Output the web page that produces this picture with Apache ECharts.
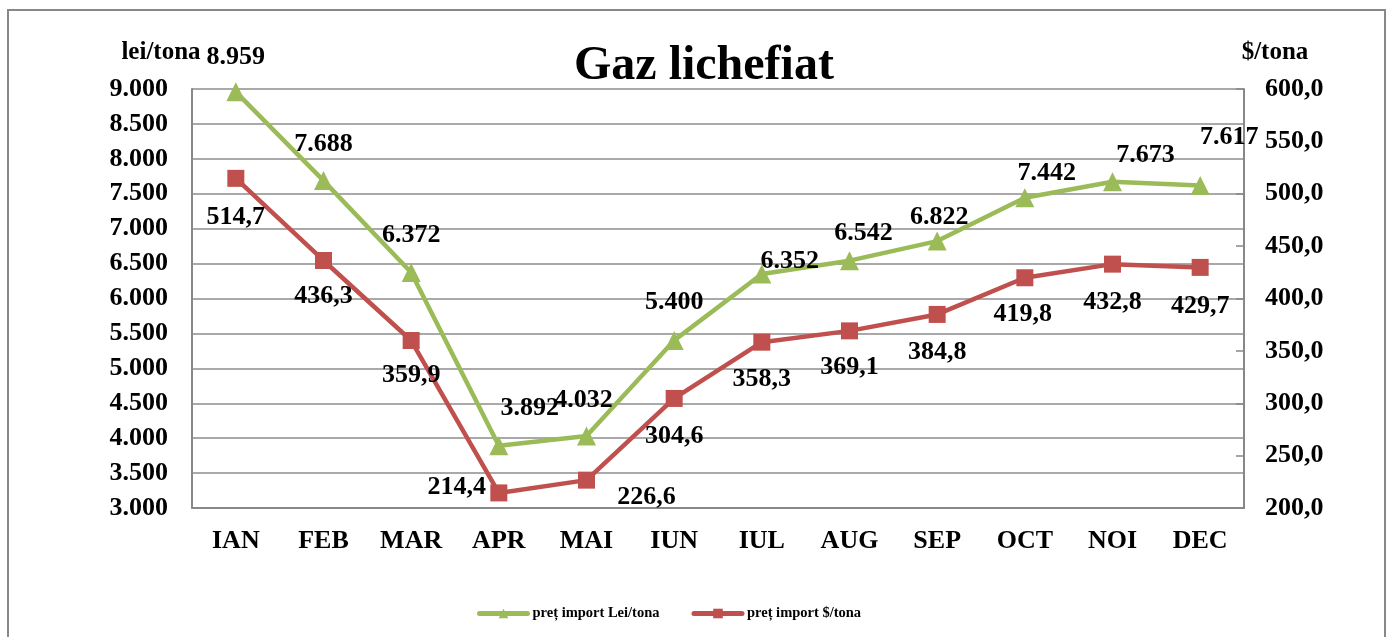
<!DOCTYPE html>
<html>
<head>
<meta charset="utf-8">
<script src="https://cdn.jsdelivr.net/npm/echarts@6/dist/echarts.min.js"></script>
<style>
  html, body { margin: 0; padding: 0; background: #fff; }
  #chart { width: 1392px; height: 637px; }
</style>
</head>
<body>
<div id="chart"></div>
<script>
const months = ["IAN", "FEB", "MAR", "APR", "MAI", "IUN", "IUL", "AUG", "SEP", "OCT", "NOI", "DEC"];
const leiPerTona = [8959, 7688, 6372, 3892, 4032, 5400, 6352, 6542, 6822, 7442, 7673, 7617];
const usdPerTona = [514.7, 436.3, 359.9, 214.4, 226.6, 304.6, 358.3, 369.1, 384.8, 419.8, 432.8, 429.7];

const font = "'Liberation Serif', 'Times New Roman', serif";
const green = "#9BBB59";
const red = "#C0504D";

// where each value label sits relative to its point (px)
const leiLabelShift = [[0,-35],[0,-36],[0,-37],[31,-37],[-3,-36],[0,-38],[28,-13],[14,-27],[2,-24],[22,-25],[33,-26],[29,-48]];
const usdLabelShift = [[0,39],[0,36],[0,35],[-42,-6],[60,17],[0,38],[0,37],[0,36],[0,38],[-2,37],[0,38],[0,39]];

const fmtLei = (v) => String(Math.round(v)).replace(/\B(?=(\d{3})+(?!\d))/g, ".");
const fmtUsd = (v) => v.toFixed(1).replace(".", ",");

const chart = echarts.init(document.getElementById("chart"));

const labelStyle = { show: true, position: "inside", color: "#000", fontFamily: font, fontWeight: "bold", fontSize: 26 };

chart.setOption({
  animation: false,
  backgroundColor: "#fff",
  title: {
    text: "Gaz lichefiat",
    left: 569,
    top: 38,
    textStyle: { fontFamily: font, fontWeight: "bold", fontSize: 48, color: "#000" },
  },
  graphic: [
    {
      type: "rect",
      shape: { x: 8, y: 10, width: 1377, height: 700 },
      style: { fill: "none", stroke: "#888", lineWidth: 2 },
      silent: true,
    },
  ],
  legend: {
    left: 472,
    top: 601,
    itemWidth: 48,
    itemHeight: 12,
    itemGap: 32,
    lineStyle: { width: 5, cap: "round" },
    textStyle: { fontFamily: font, fontWeight: "bold", fontSize: 14.5, color: "#000" },
    data: ["preț import Lei/tona", "preț import $/tona"],
  },
  grid: { left: 192, right: 148, top: 89, bottom: 129 },
  xAxis: {
    type: "category",
    data: months,
    boundaryGap: true,
    axisLine: { lineStyle: { color: "#888", width: 2 } },
    axisTick: { show: false },
    axisLabel: { color: "#000", fontFamily: font, fontWeight: "bold", fontSize: 26, margin: 20 },
  },
  yAxis: [
    {
      type: "value",
      min: 3000,
      max: 9000,
      interval: 500,
      name: "lei/tona",
      nameLocation: "end",
      nameGap: 24,
      nameTextStyle: { color: "#000", fontFamily: font, fontWeight: "bold", fontSize: 25, padding: [0, 62, 0, 0] },
      axisLine: { show: true, lineStyle: { color: "#888", width: 2 } },
      axisTick: { show: false },
      axisLabel: { color: "#000", fontFamily: font, fontWeight: "bold", fontSize: 26, margin: 24, formatter: fmtLei },
      splitLine: { lineStyle: { color: "#8c8c8c", width: 1.5 } },
    },
    {
      type: "value",
      min: 200,
      max: 600,
      interval: 50,
      name: "$/tona",
      nameLocation: "end",
      nameGap: 24,
      nameTextStyle: { color: "#000", fontFamily: font, fontWeight: "bold", fontSize: 25, padding: [0, 0, 0, 62] },
      axisLine: { show: true, lineStyle: { color: "#888", width: 2 } },
      axisTick: { show: true, inside: true, length: 8, lineStyle: { color: "#888", width: 1.5 } },
      axisLabel: { color: "#000", fontFamily: font, fontWeight: "bold", fontSize: 26, margin: 21, formatter: fmtUsd },
      splitLine: { show: false },
    },
  ],
  series: [
    {
      name: "preț import Lei/tona",
      type: "line",
      yAxisIndex: 0,
      symbol: "triangle",
      symbolSize: 19,
      lineStyle: { color: green, width: 4.5 },
      itemStyle: { color: green },
      z: 3,
      data: leiPerTona.map((v, i) => ({
        value: v,
        label: { ...labelStyle, offset: leiLabelShift[i], formatter: () => fmtLei(v) },
      })),
    },
    {
      name: "preț import $/tona",
      type: "line",
      yAxisIndex: 1,
      symbol: "rect",
      symbolSize: 17,
      lineStyle: { color: red, width: 4.5 },
      itemStyle: { color: red },
      z: 2,
      data: usdPerTona.map((v, i) => ({
        value: v,
        label: { ...labelStyle, offset: usdLabelShift[i], formatter: () => fmtUsd(v) },
      })),
    },
  ],
});
</script>
</body>
</html>
